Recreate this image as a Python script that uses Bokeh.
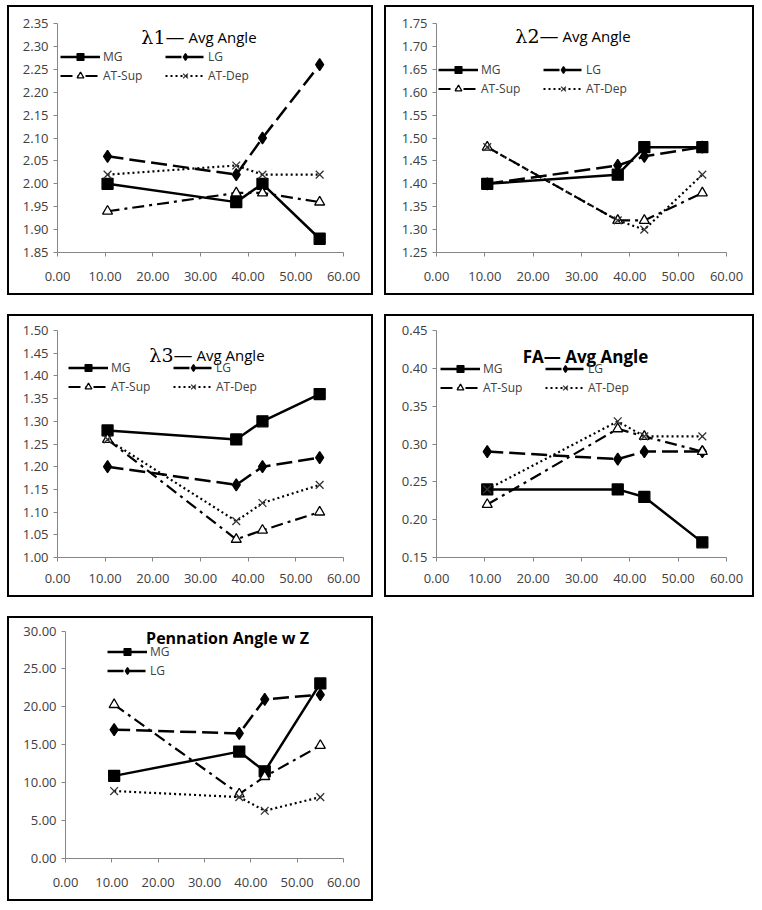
from bokeh.plotting import figure
from bokeh.layouts import column, row
from bokeh.models import Label, SingleIntervalTicker, NumeralTickFormatter, Range1d
from bokeh.embed import file_html
from bokeh.resources import INLINE

# ---------------- data ----------------
x_pos = [10.5, 37.5, 43.0, 55.0]
series_names = ["MG", "LG", "AT-Sup", "AT-Dep"]

l1_mg = [2.00, 1.96, 2.00, 1.88]
l1_lg = [2.06, 2.02, 2.10, 2.26]
l1_atsup = [1.94, 1.98, 1.98, 1.96]
l1_atdep = [2.02, 2.04, 2.02, 2.02]

l2_mg = [1.40, 1.42, 1.48, 1.48]
l2_lg = [1.40, 1.44, 1.46, 1.48]
l2_atsup = [1.48, 1.32, 1.32, 1.38]
l2_atdep = [1.48, 1.32, 1.30, 1.42]

l3_mg = [1.28, 1.26, 1.30, 1.36]
l3_lg = [1.20, 1.16, 1.20, 1.22]
l3_atsup = [1.26, 1.04, 1.06, 1.10]
l3_atdep = [1.26, 1.08, 1.12, 1.16]

fa_mg = [0.24, 0.24, 0.23, 0.17]
fa_lg = [0.29, 0.28, 0.29, 0.29]
fa_atsup = [0.22, 0.32, 0.31, 0.29]
fa_atdep = [0.24, 0.33, 0.31, 0.31]

pa_mg = [10.9, 14.1, 11.5, 23.1]
pa_lg = [17.0, 16.5, 21.0, 21.6]
pa_atsup = [20.3, 8.5, 10.8, 14.9]
pa_atdep = [8.9, 8.1, 6.3, 8.1]

x_range_lim = (0, 60)
x_tick_step = 10

# ---------------- styles ----------------
STY = {
    "MG": dict(dash="solid", lw=2.5, marker="square", size=11, fill="black", mline="black"),
    "LG": dict(dash="16 6", lw=2.5, marker="diamond", size=12, fill="black", mline="black"),
    "AT-Sup": dict(dash="12 5 3 5", lw=2.2, marker="triangle", size=10, fill="white", mline="black"),
    "AT-Dep": dict(dash="2 3", lw=2.2, marker="x", size=11, fill="#333333", mline="#333333"),
}
AX_COL = "#868686"
TXT_COL = "#404040"
FONT = "Open Sans"
PANEL_STYLE = {"outline": "2px solid black", "outline-offset": "0px"}


def make_panel(w, h, borders, yr, ybounds, ystep, data, legend_series, legend_loc, titles, xstandoff):
    left, right, top, bottom = borders
    p = figure(width=w, height=h, output_backend="svg", toolbar_location=None,
               x_range=Range1d(*x_range_lim), y_range=Range1d(*yr),
               min_border_left=left, min_border_right=right,
               min_border_top=top, min_border_bottom=bottom,
               background_fill_color="white", border_fill_color="white",
               styles=PANEL_STYLE)
    p.outline_line_color = None
    p.xgrid.visible = False
    p.ygrid.visible = False

    p.xaxis.ticker = SingleIntervalTicker(interval=x_tick_step)
    p.yaxis.ticker = SingleIntervalTicker(interval=ystep)
    p.yaxis.bounds = ybounds
    p.xaxis.formatter = NumeralTickFormatter(format="0.00")
    p.yaxis.formatter = NumeralTickFormatter(format="0.00")
    for ax in (p.xaxis[0], p.yaxis[0]):
        ax.axis_line_color = AX_COL
        ax.axis_line_width = 1
        ax.major_tick_line_color = AX_COL
        ax.major_tick_out = 4
        ax.major_tick_in = 0
        ax.minor_tick_line_color = None
        ax.major_label_text_font = FONT
        ax.major_label_text_font_size = "13px"
        ax.major_label_text_color = TXT_COL
    p.xaxis.major_label_standoff = xstandoff
    p.yaxis.major_label_standoff = 5

    for name, ys in zip(series_names, data):
        s = STY[name]
        kw = {}
        if name in legend_series:
            kw["legend_label"] = name
        p.line(x_pos, ys, line_color="black", line_width=s["lw"], line_dash=s["dash"], **kw)
        p.scatter(x_pos, ys, marker=s["marker"], size=s["size"], fill_color=s["fill"],
                  line_color=s["mline"], line_width=1.3, **kw)

    lg = p.legend[0]
    if len(legend_series) > 2:
        by_label = {it.label.value: it for it in lg.items}
        # column-major fill: this order gives rows (MG, LG) and (AT-Sup, AT-Dep)
        lg.items = [by_label["MG"], by_label["AT-Sup"], by_label["LG"], by_label["AT-Dep"]]
        lg.ncols = 2
    lg.location = legend_loc
    lg.background_fill_alpha = 0
    lg.border_line_color = None
    lg.padding = 0
    lg.margin = 0
    lg.spacing = 2
    lg.glyph_width = 40
    lg.glyph_height = 17
    lg.label_height = 17
    lg.label_width = 60
    lg.label_standoff = 3
    lg.label_text_font = FONT
    lg.label_text_font_size = "12px"
    lg.label_text_color = TXT_COL

    for t in titles:
        p.add_layout(Label(x_units="screen", y_units="screen", **t))
    return p


def lam_titles(sym, xr, y):
    return [
        dict(x=xr, y=y, text=sym, text_font="DejaVu Serif", text_font_size="19px",
             text_align="right", text_baseline="alphabetic", text_color="black"),
        dict(x=xr + 4, y=y, text="Avg Angle", text_font=FONT, text_font_size="15px",
             text_align="left", text_baseline="alphabetic", text_color="black"),
    ]


def bold_title(text, xc, y, size):
    return [dict(x=xc, y=y, text=text, text_font=FONT, text_font_size=size,
                 text_font_style="bold", text_align="center", text_baseline="alphabetic",
                 text_color="black")]


p1 = make_panel(362, 286, (48, 28, 16, 41), (1.85, 2.35), (1.85, 2.35), 0.05,
                [l1_mg, l1_lg, l1_atsup, l1_atdep], series_names, (3, 168),
                lam_titles("λ1—", 127, 216), 15)
p2 = make_panel(366, 286, (50, 26, 16, 41), (1.25, 1.75), (1.25, 1.75), 0.05,
                [l2_mg, l2_lg, l2_atsup, l2_atdep], series_names, (2, 155),
                lam_titles("λ2—", 122, 217), 15)
p3 = make_panel(362, 279, (48, 28, 14, 38), (1.00, 1.50), (1.00, 1.50), 0.05,
                [l3_mg, l3_lg, l3_atsup, l3_atdep], series_names, (11, 162),
                lam_titles("λ3—", 135, 203), 12)
p4 = make_panel(366, 279, (50, 26, 14, 38), (0.15, 0.45), (0.15, 0.45), 0.05,
                [fa_mg, fa_lg, fa_atsup, fa_atdep], series_names, (4, 161),
                bold_title("FA— Avg Angle", 149, 201, "17px"), 12)
p5 = make_panel(362, 281, (56, 28, 5, 41), (0, 31), (0, 30), 5,
                [pa_mg, pa_lg, pa_atsup, pa_atdep], ["MG", "LG"], (42, 179),
                bold_title("Pennation Angle w Z", 162, 221, "16px"), 15)

layout = column(row(p1, p2, spacing=15), row(p3, p4, spacing=15), row(p5), spacing=23,
                styles={"margin-left": "9px", "margin-top": "7px"})

open("out.html", "w").write(file_html(layout, INLINE))
